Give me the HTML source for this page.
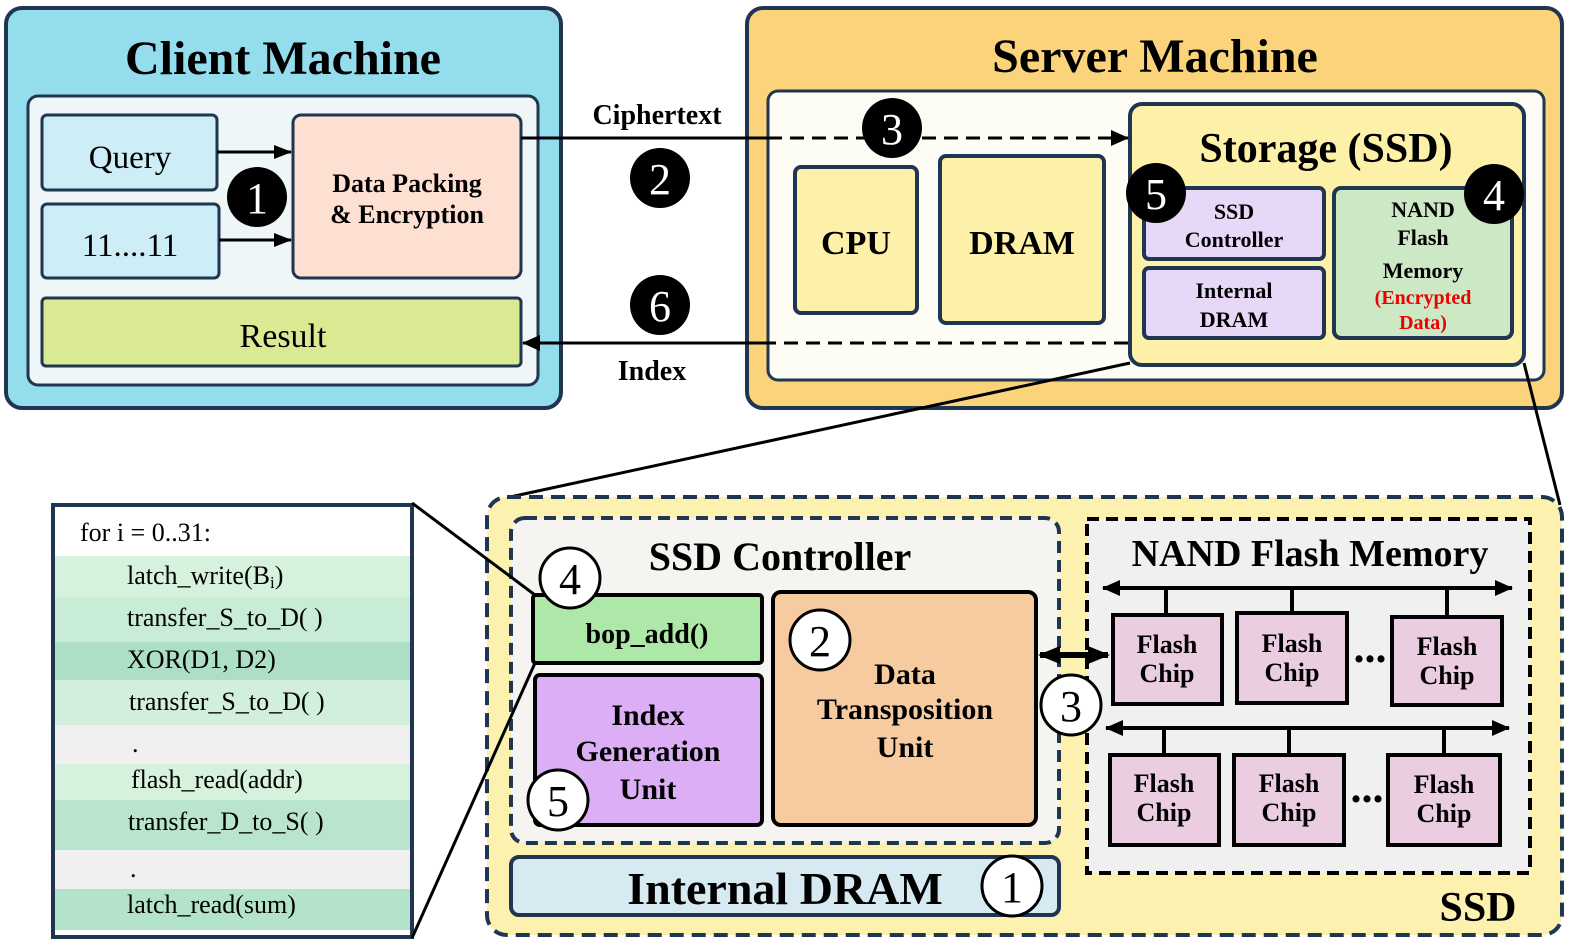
<!DOCTYPE html>
<html><head><meta charset="utf-8"><style>
html,body{margin:0;padding:0;background:#fff;}
svg{display:block;}
text{font-family:"Liberation Serif",serif;font-weight:bold;fill:#000;}
.n{font-weight:normal;}
</style></head><body>
<svg width="1577" height="944" viewBox="0 0 1577 944" xmlns="http://www.w3.org/2000/svg">
<defs>
<marker id="ah" markerWidth="18" markerHeight="14" refX="17" refY="7" orient="auto" markerUnits="userSpaceOnUse"><path d="M0,0 L18,7 L0,14 z" fill="#000"/></marker>
<marker id="ab" markerWidth="22" markerHeight="18" refX="20" refY="9" orient="auto-start-reverse" markerUnits="userSpaceOnUse"><path d="M0,0 L22,9 L0,18 z" fill="#000"/></marker>
<marker id="am" markerWidth="18" markerHeight="16" refX="17" refY="8" orient="auto-start-reverse" markerUnits="userSpaceOnUse"><path d="M0,0 L18,8 L0,16 z" fill="#000"/></marker>
</defs>
<g stroke="#1f3550" stroke-width="4">
<rect x="6" y="8" width="555" height="400" rx="16" fill="#93dded"/>
<rect x="28" y="96" width="510" height="289" rx="10" fill="#eef6f8" stroke-width="3"/>
<rect x="42" y="115" width="175" height="75" rx="5" fill="#cdeef6" stroke-width="3"/>
<rect x="42" y="204" width="177" height="74" rx="5" fill="#cdeef6" stroke-width="3"/>
<rect x="293" y="115" width="228" height="163" rx="8" fill="#fde0d2" stroke-width="3"/>
<rect x="42" y="298" width="479" height="68" rx="4" fill="#d9ea93" stroke-width="3"/>
<rect x="747" y="8" width="815" height="400" rx="16" fill="#fbd37a"/>
<rect x="768" y="91" width="776" height="289" rx="10" fill="#fdfcf5" stroke-width="3"/>
<rect x="795" y="167" width="122" height="146" rx="6" fill="#fdf0a8"/>
<rect x="940" y="156" width="164" height="167" rx="6" fill="#fdf0a8"/>
<rect x="1130" y="104" width="394" height="261" rx="12" fill="#fdf0a8"/>
<rect x="1144" y="188" width="180" height="71" rx="5" fill="#e8d8f8"/>
<rect x="1144" y="268" width="180" height="70" rx="5" fill="#e8d8f8"/>
<rect x="1334" y="188" width="178" height="150" rx="7" fill="#cce8c4"/>
</g>
<text x="283" y="74" font-size="48" text-anchor="middle">Client Machine</text>
<text x="130" y="168" font-size="33" class="n" text-anchor="middle">Query</text>
<text x="130" y="256" font-size="33" class="n" text-anchor="middle">11....11</text>
<text x="407" y="192" font-size="26" text-anchor="middle">Data Packing</text>
<text x="407" y="223" font-size="26" text-anchor="middle">&amp; Encryption</text>
<text x="283" y="347" font-size="34" class="n" text-anchor="middle">Result</text>
<line x1="217" y1="152" x2="291" y2="152" stroke="#000" stroke-width="3" marker-end="url(#ah)"/>
<line x1="219" y1="240" x2="291" y2="240" stroke="#000" stroke-width="3" marker-end="url(#ah)"/>
<circle cx="257" cy="197" r="30" fill="#000"/><text x="257" y="213" font-size="44" class="n" text-anchor="middle" style="fill:#fff">1</text>
<text x="1155" y="72" font-size="48" text-anchor="middle">Server Machine</text>
<text x="856" y="254" font-size="34" text-anchor="middle">CPU</text>
<text x="1022" y="254" font-size="34" text-anchor="middle">DRAM</text>
<text x="1326" y="162" font-size="42" text-anchor="middle">Storage (SSD)</text>
<text x="1234" y="219" font-size="22" text-anchor="middle">SSD</text>
<text x="1234" y="247" font-size="22" text-anchor="middle">Controller</text>
<text x="1234" y="298" font-size="22" text-anchor="middle">Internal</text>
<text x="1234" y="327" font-size="22" text-anchor="middle">DRAM</text>
<text x="1423" y="217" font-size="22" text-anchor="middle">NAND</text>
<text x="1423" y="245" font-size="22" text-anchor="middle">Flash</text>
<text x="1423" y="278" font-size="22" text-anchor="middle">Memory</text>
<text x="1423" y="304" font-size="20" text-anchor="middle" style="fill:#e00">(Encrypted</text>
<text x="1423" y="329" font-size="20" text-anchor="middle" style="fill:#e00">Data)</text>
<circle cx="1156" cy="193" r="30" fill="#000"/><text x="1156" y="209" font-size="44" class="n" text-anchor="middle" style="fill:#fff">5</text>
<circle cx="1494" cy="194" r="30" fill="#000"/><text x="1494" y="210" font-size="44" class="n" text-anchor="middle" style="fill:#fff">4</text>
<line x1="521" y1="138" x2="768" y2="138" stroke="#000" stroke-width="3"/>
<line x1="768" y1="138" x2="1128" y2="138" stroke="#000" stroke-width="3" stroke-dasharray="14,8" marker-end="url(#am)"/>
<text x="657" y="124" font-size="28" text-anchor="middle">Ciphertext</text>
<circle cx="892" cy="128" r="30" fill="#000"/><text x="892" y="144" font-size="44" class="n" text-anchor="middle" style="fill:#fff">3</text>
<circle cx="660" cy="178" r="30" fill="#000"/><text x="660" y="194" font-size="44" class="n" text-anchor="middle" style="fill:#fff">2</text>
<circle cx="660" cy="305" r="30" fill="#000"/><text x="660" y="321" font-size="44" class="n" text-anchor="middle" style="fill:#fff">6</text>
<line x1="1128" y1="343" x2="768" y2="343" stroke="#000" stroke-width="3" stroke-dasharray="14,8"/>
<line x1="768" y1="343" x2="523" y2="343" stroke="#000" stroke-width="3" marker-end="url(#am)"/>
<text x="652" y="380" font-size="28" text-anchor="middle">Index</text>
<line x1="1130" y1="363" x2="510" y2="497" stroke="#000" stroke-width="3"/>
<line x1="1524" y1="363" x2="1560" y2="505" stroke="#000" stroke-width="3"/>
<rect x="487" y="497" width="1075" height="438" rx="20" fill="#fdf1b0" stroke="#1f3550" stroke-width="4" stroke-dasharray="14,8"/>
<rect x="511" y="518" width="548" height="325" rx="14" fill="#f5f4f0" stroke="#1f3550" stroke-width="4" stroke-dasharray="12,7"/>
<rect x="1087" y="519" width="443" height="354" fill="#f0f0f0" stroke="#000" stroke-width="4" stroke-dasharray="12,7"/>
<text x="780" y="570" font-size="40" text-anchor="middle">SSD Controller</text>
<text x="1310" y="566" font-size="38" text-anchor="middle">NAND Flash Memory</text>
<text x="1478" y="921" font-size="42" text-anchor="middle">SSD</text>
<g stroke="#000" stroke-width="4">
<rect x="533" y="595" width="229" height="68" rx="3" fill="#aee8a8"/>
<rect x="535" y="675" width="227" height="150" rx="5" fill="#dcaef5"/>
<rect x="773" y="592" width="263" height="233" rx="8" fill="#f7cba0"/>
</g>
<rect x="511" y="857" width="548" height="58" rx="8" fill="#d7eaf2" stroke="#1f3550" stroke-width="4"/>
<text x="647" y="643" font-size="28" text-anchor="middle">bop_add()</text>
<text x="648" y="725" font-size="30" text-anchor="middle">Index</text>
<text x="648" y="761" font-size="30" text-anchor="middle">Generation</text>
<text x="648" y="799" font-size="30" text-anchor="middle">Unit</text>
<text x="905" y="684" font-size="30" text-anchor="middle">Data</text>
<text x="905" y="719" font-size="30" text-anchor="middle">Transposition</text>
<text x="905" y="757" font-size="30" text-anchor="middle">Unit</text>
<text x="785" y="904" font-size="46" text-anchor="middle">Internal DRAM</text>
<g stroke="#000" stroke-width="3" fill="#fff">
<circle cx="570" cy="578" r="30"/><circle cx="558" cy="800" r="30"/><circle cx="820" cy="640" r="30"/><circle cx="1012" cy="886" r="30"/><circle cx="1071" cy="705" r="30"/>
</g>
<text x="570" y="594" font-size="44" class="n" text-anchor="middle">4</text>
<text x="558" y="816" font-size="44" class="n" text-anchor="middle">5</text>
<text x="820" y="656" font-size="44" class="n" text-anchor="middle">2</text>
<text x="1012" y="902" font-size="44" class="n" text-anchor="middle">1</text>
<text x="1071" y="721" font-size="44" class="n" text-anchor="middle">3</text>
<line x1="1040" y1="655" x2="1108" y2="655" stroke="#000" stroke-width="6" marker-start="url(#ab)" marker-end="url(#ab)"/>
<g stroke="#000" stroke-width="4">
<line x1="1103" y1="588" x2="1512" y2="588" marker-start="url(#am)" marker-end="url(#am)"/>
<line x1="1106" y1="728" x2="1509" y2="728" marker-start="url(#am)" marker-end="url(#am)"/>
<line x1="1166" y1="588" x2="1166" y2="615"/><line x1="1292" y1="588" x2="1292" y2="613"/><line x1="1447" y1="588" x2="1447" y2="617"/>
<line x1="1164" y1="728" x2="1164" y2="755"/><line x1="1289" y1="728" x2="1289" y2="755"/><line x1="1444" y1="728" x2="1444" y2="755"/>
<g fill="#eacde0">
<rect x="1113" y="615" width="109" height="89"/><rect x="1237" y="613" width="110" height="90"/><rect x="1392" y="617" width="110" height="88"/>
<rect x="1110" y="755" width="109" height="90"/><rect x="1234" y="755" width="110" height="90"/><rect x="1388" y="755" width="112" height="90"/>
</g></g>
<g font-size="26" text-anchor="middle">
<text x="1167" y="653">Flash</text><text x="1167" y="682">Chip</text>
<text x="1292" y="652">Flash</text><text x="1292" y="681">Chip</text>
<text x="1447" y="655">Flash</text><text x="1447" y="684">Chip</text>
<text x="1164" y="792">Flash</text><text x="1164" y="821">Chip</text>
<text x="1289" y="792">Flash</text><text x="1289" y="821">Chip</text>
<text x="1444" y="793">Flash</text><text x="1444" y="822">Chip</text>
</g>
<text x="1370" y="662" font-size="44" text-anchor="middle">...</text>
<text x="1367" y="802" font-size="44" text-anchor="middle">...</text>
<rect x="53" y="503" width="359" height="435" fill="#fff"/>
<rect x="55" y="556" width="355" height="41" fill="#d6f1dc"/>
<rect x="55" y="597" width="355" height="45" fill="#c8ecd6"/>
<rect x="55" y="642" width="355" height="38" fill="#addfc6"/>
<rect x="55" y="680" width="355" height="45" fill="#d2efdc"/>
<rect x="55" y="725" width="355" height="39" fill="#f0f0f0"/>
<rect x="55" y="764" width="355" height="36" fill="#d6f1dc"/>
<rect x="55" y="800" width="355" height="50" fill="#b8e5cc"/>
<rect x="55" y="850" width="355" height="39" fill="#f0f0f0"/>
<rect x="55" y="889" width="355" height="41" fill="#b3e3c9"/>
<rect x="53" y="505" width="359" height="432" fill="none" stroke="#1f3550" stroke-width="4"/>
<g font-size="26">
<text x="80" y="541" style="font-weight:normal">for i = 0..31:</text>
<text x="127" y="584" style="font-weight:normal">latch_write(B<tspan font-size="17" dy="4">i</tspan><tspan dy="-4">)</tspan></text>
<text x="127" y="626" style="font-weight:normal">transfer_S_to_D( )</text>
<text x="127" y="668" style="font-weight:normal">XOR(D1, D2)</text>
<text x="129" y="710" style="font-weight:normal">transfer_S_to_D( )</text>
<text x="132" y="752" style="font-weight:normal">.</text>
<text x="131" y="788" style="font-weight:normal">flash_read(addr)</text>
<text x="128" y="830" style="font-weight:normal">transfer_D_to_S( )</text>
<text x="130" y="877" style="font-weight:normal">.</text>
<text x="127" y="913" style="font-weight:normal">latch_read(sum)</text>
</g>
<line x1="412" y1="503" x2="535" y2="595" stroke="#000" stroke-width="3"/>
<line x1="412" y1="938" x2="535" y2="663" stroke="#000" stroke-width="3"/>
</svg>
</body></html>
